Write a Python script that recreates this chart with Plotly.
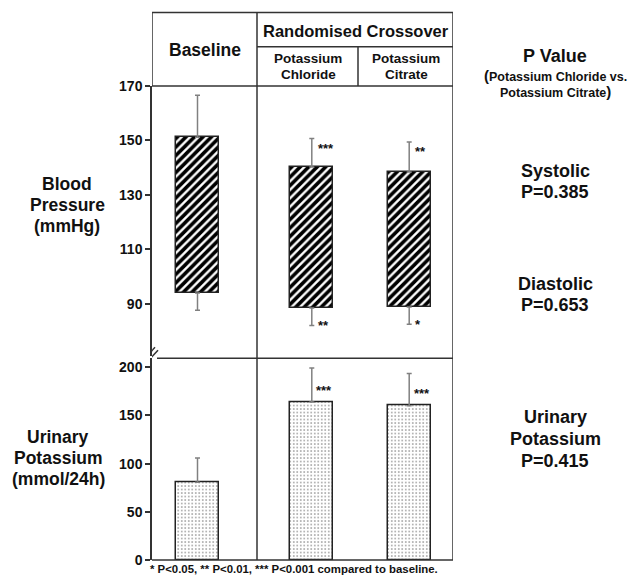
import plotly.graph_objects as go

# ---------------- data ----------------
groups = ["Baseline", "Potassium Chloride", "Potassium Citrate"]
systolic_mean = [151.2, 140.2, 138.4]
systolic_sd = [15.4, 10.5, 11.0]
diastolic_mean = [93.9, 88.4, 88.8]
diastolic_sd = [6.3, 6.4, 6.4]
urinary_k_mean = [80.7, 163.9, 160.1]
urinary_k_sd = [25.1, 35.4, 33.3]
sig_systolic = ["", "***", "**"]
sig_diastolic = ["", "**", "*"]
sig_urinary = ["", "***", "***"]
bp_ticks = [90, 110, 130, 150, 170]
uk_ticks = [0, 50, 100, 150, 200]
p_values = ["0.385", "0.653", "0.415"]

# ---------------- layout constants ----------------
W, H = 635, 580
L, R, T, B = 152, 182, 86, 17
PW = W - L - R          # 301
PH = H - T - B          # 477
BAR_POS = [45.5, 159.8, 257.2]   # x data units (1 unit = 1 px)
BAR_W = 43
FONT = "Liberation Sans, Arial, Helvetica, sans-serif"
LINE = "#333333"


def px_x(px):
    return (px - L) / PW


def px_y(py):
    return (H - B - py) / PH


fig = go.Figure()

# blood pressure floating bars
fig.add_trace(go.Bar(
    x=BAR_POS, y=[s - d for s, d in zip(systolic_mean, diastolic_mean)],
    base=diastolic_mean, width=BAR_W, xaxis="x", yaxis="y",
    marker=dict(color="white", line=dict(color="#222", width=1.5),
                pattern=dict(shape="/", fgcolor="black", bgcolor="white",
                             fgopacity=1, size=6, solidity=0.6)),
    hoverinfo="skip", showlegend=False))

# systolic error bars (upwards)
fig.add_trace(go.Scatter(
    x=BAR_POS, y=systolic_mean, mode="markers", xaxis="x", yaxis="y",
    marker=dict(size=1, opacity=0),
    error_y=dict(type="data", symmetric=False, array=systolic_sd,
                 arrayminus=[0, 0, 0], color="#808080", thickness=1.5, width=2.5),
    hoverinfo="skip", showlegend=False))
# diastolic error bars (downwards)
fig.add_trace(go.Scatter(
    x=BAR_POS, y=diastolic_mean, mode="markers", xaxis="x", yaxis="y",
    marker=dict(size=1, opacity=0),
    error_y=dict(type="data", symmetric=False, array=[0, 0, 0],
                 arrayminus=diastolic_sd, color="#808080", thickness=1.5, width=2.5),
    hoverinfo="skip", showlegend=False))

# urinary potassium bars
fig.add_trace(go.Bar(
    x=BAR_POS, y=urinary_k_mean, width=BAR_W, xaxis="x", yaxis="y2",
    marker=dict(color="white", line=dict(color="#222", width=1.5),
                pattern=dict(shape=".", fgcolor="#444", bgcolor="white",
                             size=3.5, solidity=0.22)),
    error_y=dict(type="data", symmetric=False, array=urinary_k_sd,
                 arrayminus=[0, 0, 0], color="#808080", thickness=1.5, width=2.5),
    hoverinfo="skip", showlegend=False))

annotations = []


def txt(text, x, y, size, xanchor="center", xref="paper", yref="paper",
        yshift=0, xshift=0):
    annotations.append(dict(text=text, x=x, y=y, xref=xref, yref=yref,
                            xanchor=xanchor, yanchor="middle", showarrow=False,
                            xshift=xshift, yshift=yshift,
                            font=dict(family=FONT, size=size, color="#111",
                                      weight="bold")))


def lines(texts, x_px, ys_px, size):
    for t, yy in zip(texts, ys_px):
        txt(t, px_x(x_px), px_y(yy), size)


# significance stars
for i in range(3):
    if sig_systolic[i]:
        txt(sig_systolic[i], BAR_POS[i], systolic_mean[i] + systolic_sd[i], 13,
            xanchor="left", xref="x", yref="y", xshift=4, yshift=-9.5)
    if sig_diastolic[i]:
        txt(sig_diastolic[i], BAR_POS[i], diastolic_mean[i] - diastolic_sd[i], 13,
            xanchor="left", xref="x", yref="y", xshift=4, yshift=0)
    if sig_urinary[i]:
        txt(sig_urinary[i], BAR_POS[i], urinary_k_mean[i], 13,
            xanchor="left", xref="x", yref="y2", xshift=2.5, yshift=12)

# header texts
lines(["Baseline"], 204.5, [50], 17.5)
lines(["Randomised Crossover"], 356, [31], 16.5)
lines(["Potassium", "Chloride"], 308, [58.7, 74], 13.5)
lines(["Potassium", "Citrate"], 406, [58.7, 74], 13.5)

# left labels
lines(["Blood", "Pressure", "(mmHg)"], 67, [185, 206, 227], 17.5)
lines(["Urinary", "Potassium", "(mmol/24h)"], 58, [439, 460, 481], 17.5)

# right labels
lines(["P Value"], 555, [56], 18)
lines(["<span style='font-size:15px'>(</span>Potassium Chloride vs.",
       "Potassium Citrate<span style='font-size:15px'>)</span>"],
      555, [75.5, 91.5], 12.5)
lines(["Systolic", "P=" + p_values[0]], 555, [171.5, 192.5], 18)
lines(["Diastolic", "P=" + p_values[1]], 555, [285, 306], 18)
lines(["Urinary", "Potassium", "P=" + p_values[2]], 555, [419.5, 441, 463], 18)

# footnote
lines(["* P<0.05, ** P<0.01, *** P<0.001 compared to baseline."], 293.5, [572.5], 11.4)

# frame lines
shapes = []


def seg(x0, y0, x1, y1):
    shapes.append(dict(type="line", xref="x", yref="paper", x0=x0, y0=y0,
                       x1=x1, y1=y1, line=dict(color=LINE, width=1.5)))


top = px_y(12)
mid = px_y(46.5)
seg(0, top, 301, top)            # top border
seg(0, 1.0, 0, top)              # left border of header
seg(301, 0, 301, top)            # right border
seg(105, 0, 105, top)            # baseline / crossover divider
seg(206, 1.0, 206, mid)          # KCl / citrate divider
seg(105, mid, 301, mid)          # under "Randomised Crossover"
seg(0, 1.0, 301, 1.0)            # header bottom
seg(5, px_y(360), 301, px_y(360))  # lower panel top
seg(0, 0, 301, 0)                # bottom
# axis break marks
seg(-5, px_y(357.5), 3, px_y(349))
seg(-2, px_y(360.5), 6, px_y(352))

fig.update_layout(
    width=W, height=H,
    margin=dict(l=L, r=R, t=T, b=B, pad=0),
    paper_bgcolor="white", plot_bgcolor="white",
    bargap=0, barmode="overlay",
    xaxis=dict(range=[0, PW], domain=[0, 1], showgrid=False, zeroline=False,
               showticklabels=False, ticks="", showline=False, fixedrange=True),
    yaxis=dict(range=[70.66, 170], domain=[px_y(358), 1], anchor="x",
               tickvals=bp_ticks, ticks="outside", ticklen=5, tickwidth=1.5,
               tickcolor=LINE, showline=True, linecolor=LINE, linewidth=1.5,
               showgrid=False, zeroline=False,
               tickfont=dict(family=FONT, size=14, color="#111", weight="bold")),
    yaxis2=dict(range=[0, 209.3], domain=[0, px_y(360)], anchor="x",
                tickvals=uk_ticks, ticks="outside", ticklen=5, tickwidth=1.5,
                tickcolor=LINE, showline=True, linecolor=LINE, linewidth=1.5,
                showgrid=False, zeroline=False,
                tickfont=dict(family=FONT, size=14, color="#111", weight="bold")),
    annotations=annotations,
    shapes=shapes,
    showlegend=False,
)

fig.write_html("out.html", config={"displayModeBar": False},
               post_script="document.body.style.margin='0px';")
